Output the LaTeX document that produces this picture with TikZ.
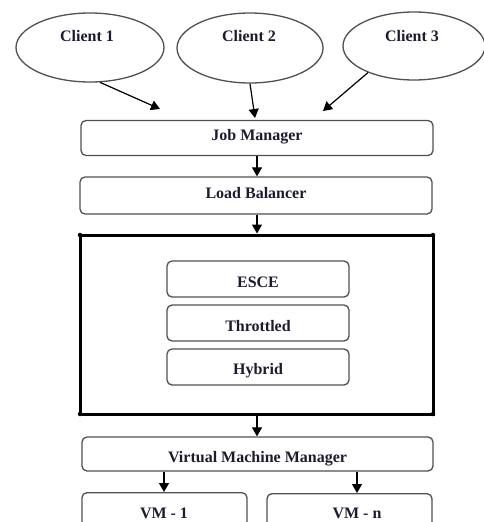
\documentclass[tikz,border=0pt]{standalone}
\usepackage{fontspec}
\setmainfont{Liberation Serif}
\usetikzlibrary{arrows.meta,shapes.geometric}
\definecolor{txtc}{RGB}{28,28,48}
\definecolor{linec}{RGB}{80,80,80}
\tikzset{
  client/.style={ellipse,draw=linec,line width=1.3pt,inner sep=0pt},
  rbox/.style={rectangle,rounded corners=5pt,draw=linec,line width=1.3pt,inner sep=0pt},
  txt/.style={font=\bfseries\fontsize{16}{18}\selectfont,text=txtc,inner sep=0pt},
  arr/.style={line width=1.2pt,-{Triangle[length=9pt,width=10pt]}},
  corner/.style={circle,fill=black,inner sep=0pt,minimum size=4.5pt}
}
\begin{document}
\begin{tikzpicture}[x=1pt,y=-1pt]
\useasboundingbox (0,0) rectangle (484,522);
\clip (0,0) rectangle (484,522);
% clients
\node[client,minimum width=148pt,minimum height=69pt] (c1) at (90,47.5) {};
\node[client,minimum width=146pt,minimum height=70pt] (c2) at (250,48) {};
\node[client,minimum width=142pt,minimum height=68pt] (c3) at (414,46) {};
\node[txt] (c1t) at (87,36) {Client 1};
\node[txt] (c2t) at (249,36) {Client 2};
\node[txt] (c3t) at (412,36) {Client 3};
\coordinate (t1) at (160,109);
\coordinate (t2) at (255,118);
\coordinate (t3) at (323,111);
\draw[arr] (c1.-74) -- (t1);
\draw[arr] (c2.south) -- (t2);
\draw[arr] (c3.-150) -- (t3);
% job manager & load balancer
\node[rbox,minimum width=352pt,minimum height=35pt] (jm) at (257,138) {};
\node[txt] (jmt) at (257,137) {Job Manager};
\node[rbox,minimum width=352pt,minimum height=37pt] (lb) at (256,195.5) {};
\node[txt] (lbt) at (256,193.5) {Load Balancer};
\draw[arr] (jm.south -| 257,0) -- (lb.north -| 257,0);
% big box
\coordinate (bb1) at (80,235);
\coordinate (bb2) at (433,235);
\coordinate (bb3) at (433,414);
\coordinate (bb4) at (80,414);
\draw[line width=3pt] (bb1) -- (bb2) -- (bb3) -- (bb4) -- cycle;
\foreach \p in {bb1,bb2,bb3,bb4} \node[corner] at (\p) {};
\coordinate (bbtop) at (257,233.5);
\draw[arr] (lb.south -| 257,0) -- (bbtop);
% inner boxes
\node[rbox,minimum width=182pt,minimum height=36pt] (esce) at (258,279) {};
\node[txt] (escet) at (258,282) {ESCE};
\node[rbox,minimum width=182pt,minimum height=36pt] (thr) at (258,323) {};
\node[txt] (thrt) at (258,326) {Throttled};
\node[rbox,minimum width=182pt,minimum height=36pt] (hyb) at (258,367) {};
\node[txt] (hybt) at (258,370.5) {Hybrid};
% VMM
\coordinate (bbbot) at (257,415.5);
\node[rbox,minimum width=351pt,minimum height=34pt] (vmm) at (257.5,454) {};
\node[txt] (vmmt) at (257.5,459) {Virtual Machine Manager};
\draw[arr] (bbbot) -- (vmm.north -| 257,0);
% VMs
\node[rbox,minimum width=165pt,minimum height=60pt,anchor=north] (vm1) at (164.5,492) {};
\node[txt] (vm1t) at (164,513) {VM - 1};
\node[rbox,minimum width=165pt,minimum height=60pt,anchor=north] (vmn) at (349.5,493) {};
\node[txt] (vmnt) at (357,513) {VM - n};
\draw[arr] (vmm.south -| 164,0) -- (vm1.north -| 164,0);
\draw[arr] (vmm.south -| 357,0) -- (vmn.north -| 357,0);
\end{tikzpicture}
\end{document}
